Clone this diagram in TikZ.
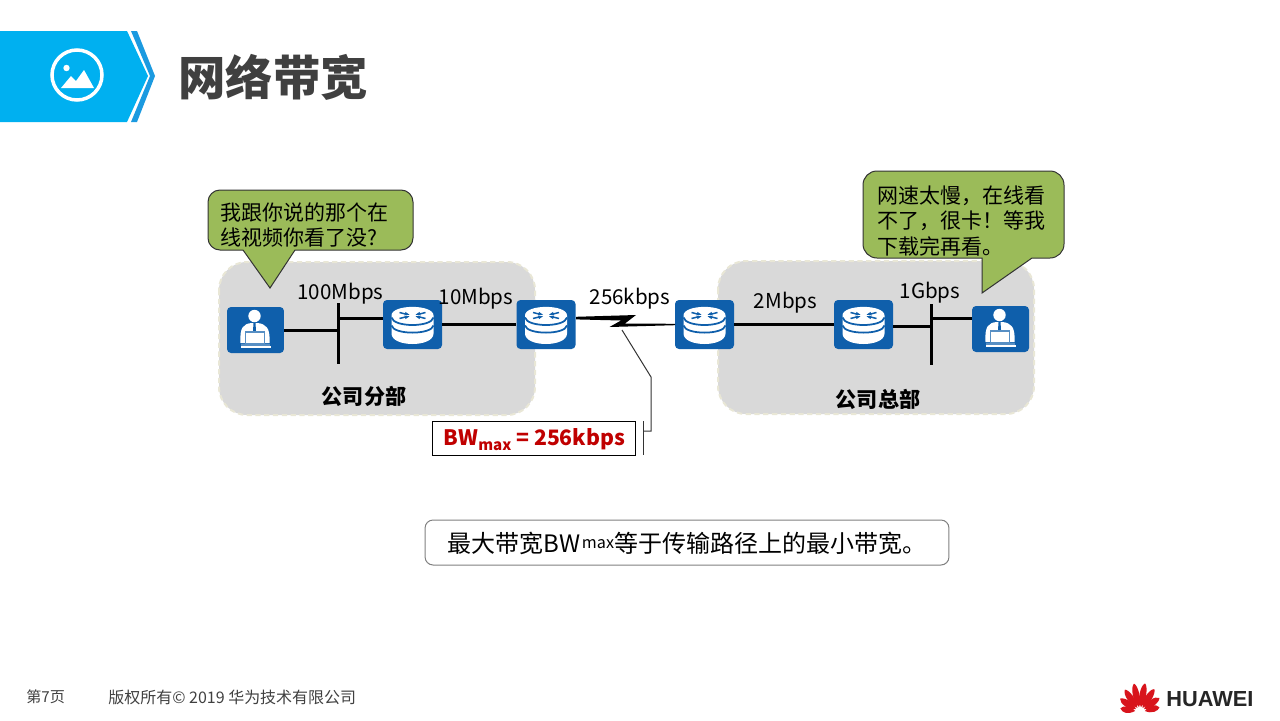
\documentclass[tikz,border=0pt]{standalone}
\usepackage{fontspec}
\setmainfont{Noto Sans CJK SC}
\newfontfamily\logofont{Liberation Sans}
\usetikzlibrary{positioning}
\definecolor{bannerblue}{HTML}{00B0F0}
\definecolor{chevronblue}{HTML}{1B9AE0}
\definecolor{boxblue}{HTML}{0F5FAB}
\definecolor{areagray}{HTML}{D9D9D9}
\definecolor{areaedge}{HTML}{E9E7D6}
\definecolor{bubblegreen}{HTML}{9BBB59}
\definecolor{titlegray}{HTML}{404040}
\definecolor{bwred}{HTML}{C00000}
\definecolor{logored}{HTML}{D8141C}
\tikzstyle{routerbox} = [rectangle, fill=boxblue, rounded corners=0.08cm, minimum width=1.18cm, minimum height=0.98cm, inner sep=0pt]
\tikzstyle{hostbox} = [rectangle, fill=boxblue, rounded corners=0.08cm, minimum width=1.14cm, minimum height=0.92cm, inner sep=0pt]
\tikzstyle{busbar} = [rectangle, fill=black, minimum width=0.05cm, minimum height=1.22cm, inner sep=0pt]
\tikzstyle{area} = [draw=areaedge, fill=areagray, line width=0.04cm, densely dashed, rounded corners=0.56cm]
\tikzstyle{bubble} = [draw=black!80, fill=bubblegreen, line width=0.02cm]
\tikzstyle{link} = [draw=black, line width=0.06cm]
\tikzstyle{rate} = [inner sep=0pt, font=\fontsize{11.7}{13}\selectfont]
\tikzstyle{speech} = [inner sep=0pt, align=left, anchor=north west, font=\fontsize{11.95}{14.6}\selectfont]
\tikzstyle{site} = [inner sep=0pt, font=\fontsize{12}{14}\selectfont\bfseries]
\tikzset{
  routericon/.pic={
    \fill[white] (-21,-9) .. controls (-21,-20.5) and (21,-20.5) .. (21,-9) -- (21,9)
      .. controls (21,23) and (-21,23) .. (-21,9) -- cycle;
    \draw[boxblue, line width=0.035cm] (-21,-7) .. controls (-19,3) and (19,3) .. (21,-7);
    \draw[boxblue, line width=0.035cm] (-21,1) .. controls (-19,10.5) and (19,10.5) .. (21,1);
    \foreach \sx/\sy in {1/1,-1/1,1/-1,-1/-1} {
      \draw[boxblue, line width=0.03cm] (\sx*13,-9+\sy*3) -- (\sx*6,-9+\sy*1.2);
      \fill[boxblue] (\sx*3,-9+\sy*0.8) -- (\sx*7,-9+\sy*3.6) -- (\sx*8,-9+\sy*0.2) -- cycle;
    }
  },
  hosticon/.pic={
    \fill[white] (-1,-14) circle (6.2);
    \fill[white] (-15,13) .. controls (-16,-3) and (-12,-6) .. (-4,-7) -- (2,-7)
      .. controls (10,-6) and (15,-3) .. (14,13) -- cycle;
    \fill[boxblue] (-2,-7) -- (0,-7) -- (0.5,1) -- (-2.5,1) -- cycle;
    \draw[boxblue!70!white, fill=white, line width=0.025cm] (-10,2) rectangle (9,14);
    \fill[boxblue!70!white] (-15,14) rectangle (14,15.5);
    \fill[white] (-15,16) rectangle (15,17.5);
  }
}

\begin{document}
\begin{tikzpicture}[x=0.02cm, y=-0.02cm]
    \useasboundingbox (0,0) rectangle (1280,720);

    % Banner
    \fill[bannerblue] (0,31) -- (127,31) -- (148,76) -- (127,122) -- (0,122) -- cycle;
    \fill[chevronblue] (131,31) -- (137,31) -- (155,76) -- (137,122) -- (131,122) -- (150,76) -- cycle;
    \draw[white, line width=0.07cm] (77,75) circle (25);
    \fill[white] (66.5,68) circle (3.2);
    \fill[white] (61,88) -- (71,76) -- (76,81) -- (84,70) -- (94,88) -- cycle;
    \node [anchor=west, inner sep=0pt, text=titlegray, font=\fontsize{27}{30}\selectfont\bfseries] (title) at (178,77.5) {网络带宽};

    % Areas
    \draw[area] (219,262) rectangle (535,415);
    \draw[area] (718,261) rectangle (1034,414);

    % Nodes
    \node [hostbox] (hostA) at (255.5,330) {};
    \node [busbar] (busA) at (338.5,333.5) {};
    \node [routerbox] (routerA) at (412.5,324.5) {};
    \node [routerbox] (routerB) at (546,324.5) {};
    \node [routerbox] (routerC) at (704.5,324.5) {};
    \node [routerbox] (routerD) at (863.5,324.5) {};
    \node [busbar] (busB) at (931.5,334) {};
    \node [hostbox] (hostB) at (1000.5,329) {};
    \foreach \name in {routerA,routerB,routerC,routerD}
      \pic at (\name) {routericon};
    \foreach \name in {hostA,hostB}
      \pic at (\name) {hosticon};
    \coordinate (tapA) at (338.5,318);
    \coordinate (tapB) at (893,326);
    \coordinate (tapC) at (931.5,318);
    \coordinate (serialA) at (576,318);
    \coordinate (serialB) at (675,324.5);

    % Connections
    \draw [link] (hostA.east) -- (hostA.east -| busA.west);
    \draw [link] (tapA) -- (tapA -| routerA.west);
    \draw [link] (routerA.east) -- (routerB.west);
    \draw [link] (routerC.east) -- (routerD.west);
    \draw [link] (tapB) -- (tapB -| busB.west);
    \draw [link] (tapC) -- (tapC -| hostB.west);
    \fill[black] (serialA) ++(0,-1.2) -- (636,315) -- (625,323.5) -- (675,323.8) -- (675,325.2) -- (609.5,327) -- (621,320.5) -- (576,319.4) -- cycle;

    % Rates
    \node [rate] (rateA) at (340.5,294) {100Mbps};
    \node [rate] (rateB) at (476,299) {10Mbps};
    \node [rate] (rateC) at (630,299) {256kbps};
    \node [rate] (rateD) at (785.5,303) {2Mbps};
    \node [rate] (rateE) at (930,292.5) {1Gbps};
    \node [site] (siteA) at (364,396.5) {公司分部};
    \node [site] (siteB) at (878,399.5) {公司总部};

    % Bubbles
    \draw[bubble] (270,288) -- (243,250) [rounded corners=0.24cm] -- (208,250) -- (208,190) -- (413,190) -- (413,250) [sharp corners] -- (295,250) -- cycle;
    \node [speech] (talkA) at (220,202) {我跟你说的那个在\\线视频你看了没?};
    \draw[bubble] (982,293) -- (982,258) [rounded corners=0.28cm] -- (863,258) -- (863,171) -- (1064,171) -- (1064,258) [sharp corners] -- (1032,258) -- cycle;
    \node [speech] (talkB) at (877,185) {网速太慢，在线看\\不了，很卡！等我\\下载完再看。};

    % Callout
    \node [draw=black, fill=white, line width=0.02cm, minimum width=4.08cm, minimum height=0.68cm, inner sep=0pt] (bwbox) at (534,438) {};
    \node [inner sep=0pt, text=bwred, font=\fontsize{12.1}{15}\selectfont\bfseries] (bwtext) at (534.5,439.5) {BW{\fontsize{8.6}{10}\selectfont\raisebox{-3pt}{max}} = 256kbps};
    \coordinate (bracketT) at (643,421);
    \coordinate (bracketB) at (643,455);
    \coordinate (tipA) at (622,330);
    \coordinate (kneeA) at (651,377);
    \coordinate (kneeB) at (651,431);
    \draw[black!80, line width=0.02cm] (tipA) -- (kneeA) -- (kneeB) -- (kneeB -| bracketT);
    \draw[black!80, line width=0.02cm] (bracketT) -- (bracketB);

    % Summary
    \node [draw=black!50, fill=white, line width=0.02cm, rounded corners=0.16cm, minimum width=10.48cm, minimum height=0.9cm, inner sep=0pt] (summaryBox) at (687,542.5) {};
    \node [anchor=west, inner sep=0pt, font=\fontsize{13.66}{16}\selectfont] (summary) at (447,543.5) {最大带宽B\kern0.5pt W\kern0.5pt{\fontsize{9.2}{10}\selectfont\raisebox{2.3pt}{max}}\kern0.5pt 等于传输路径上的最小带宽。};

    % Footer
    \node [anchor=west, inner sep=0pt, text=titlegray, font=\fontsize{8.6}{10}\selectfont] (pageno) at (26,697) {第7页};
    \node [anchor=west, inner sep=0pt, text=titlegray, font=\fontsize{9.1}{10}\selectfont] (rights) at (108,697) {版权所有© 2019 华为技术有限公司};
    \foreach \a/\len in {-78/20,-55/24,-33/27,-11/29,11/29,33/27,55/24,78/20}
      \fill[logored, shift={(1140,712)}, rotate=\a] (0,-5) .. controls (-5,-11) and (-5,-\len+3) .. (-0.5,-\len) .. controls (3,-\len+2) and (4.5,-11) .. (0,-5) -- cycle;
    \node [anchor=west, inner sep=0pt, text=black!85, font=\logofont\fontsize{12.4}{15}\selectfont\bfseries] (logo) at (1166,699) {HUAWEI};
\end{tikzpicture}
\end{document}
